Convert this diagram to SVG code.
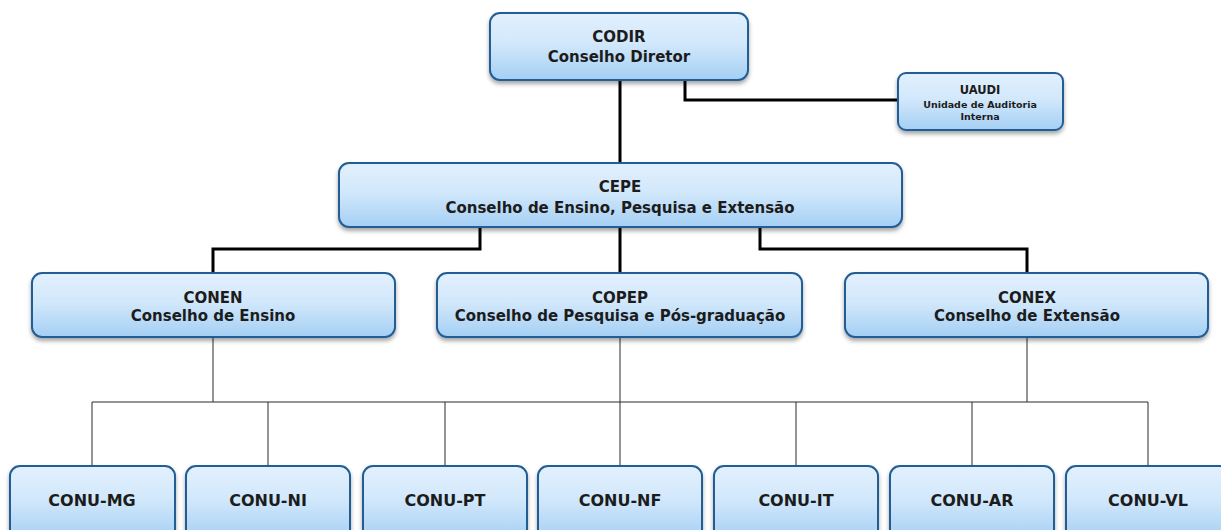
<svg xmlns="http://www.w3.org/2000/svg" width="1221" height="530" viewBox="0 0 1221 530">
<defs>
<linearGradient id="g" x1="0" y1="0" x2="0" y2="1">
<stop offset="0" stop-color="#e2f0fd"/>
<stop offset="0.45" stop-color="#d2e8fb"/>
<stop offset="1" stop-color="#a4cff4"/>
</linearGradient>
<filter id="sh" x="-5%" y="-10%" width="110%" height="130%">
<feDropShadow dx="0" dy="3" stdDeviation="2" flood-color="#000" flood-opacity="0.35"/>
</filter>
</defs>
<style>
.box{fill:url(#g);stroke:#245d96;stroke-width:2;filter:url(#sh)}
text{font-family:"DejaVu Sans","Liberation Sans",sans-serif;font-weight:bold;fill:#1c1c1c;text-anchor:middle}
.t{font-size:15px}
.b{font-size:16px}
.s{font-size:9.5px}
.thick{stroke:#000;stroke-width:3;fill:none}
.thin{stroke:#2a2a2a;stroke-width:1;fill:none}
</style>
<rect width="1221" height="530" fill="#fff"/>
<g id="connectors">
<path class="thick" d="M620 80V163M685 80V100H898M480 227V249H213V273M620 227V273M760 227V249H1027V273"/>
<path class="thin" d="M213 337V402M620 337V402M1027 337V402M92 402H1148M92 402V466M268 402V466M445 402V466M620 402V466M796 402V466M972 402V466M1148 402V466"/>
</g>
<g id="codir"><rect class="box" x="490" y="13" width="258" height="67" rx="10"/><text class="t" x="619" y="42">CODIR</text><text class="t" x="619" y="62">Conselho Diretor</text></g>
<g id="uaudi"><rect class="box" x="898" y="73" width="165" height="57" rx="8"/><text class="s" x="980" y="94" style="font-size:11.5px">UAUDI</text><text class="s" x="980" y="108">Unidade de Auditoria</text><text class="s" x="980" y="120">Interna</text></g>
<g id="cepe"><rect class="box" x="339" y="163" width="563" height="64" rx="10"/><text class="t" x="620" y="192">CEPE</text><text class="t" x="620" y="213">Conselho de Ensino, Pesquisa e Extensão</text></g>
<g id="conen"><rect class="box" x="32" y="273" width="363" height="64" rx="10"/><text class="t" x="213" y="303">CONEN</text><text class="t" x="213" y="321">Conselho de Ensino</text></g>
<g id="copep"><rect class="box" x="437" y="273" width="365" height="64" rx="10"/><text class="t" x="620" y="303">COPEP</text><text class="t" x="620" y="321">Conselho de Pesquisa e Pós-graduação</text></g>
<g id="conex"><rect class="box" x="845" y="273" width="363" height="64" rx="10"/><text class="t" x="1027" y="303">CONEX</text><text class="t" x="1027" y="321">Conselho de Extensão</text></g>
<g id="conu-mg"><rect class="box" x="10" y="466" width="165" height="74" rx="10"/><text class="b" x="92" y="506">CONU-MG</text></g>
<g id="conu-ni"><rect class="box" x="186" y="466" width="164" height="74" rx="10"/><text class="b" x="268" y="506">CONU-NI</text></g>
<g id="conu-pt"><rect class="box" x="363" y="466" width="164" height="74" rx="10"/><text class="b" x="445" y="506">CONU-PT</text></g>
<g id="conu-nf"><rect class="box" x="538" y="466" width="164" height="74" rx="10"/><text class="b" x="620" y="506">CONU-NF</text></g>
<g id="conu-it"><rect class="box" x="714" y="466" width="164" height="74" rx="10"/><text class="b" x="796" y="506">CONU-IT</text></g>
<g id="conu-ar"><rect class="box" x="890" y="466" width="164" height="74" rx="10"/><text class="b" x="972" y="506">CONU-AR</text></g>
<g id="conu-vl"><rect class="box" x="1066" y="466" width="164" height="74" rx="10"/><text class="b" x="1148" y="506">CONU-VL</text></g>
</svg>
